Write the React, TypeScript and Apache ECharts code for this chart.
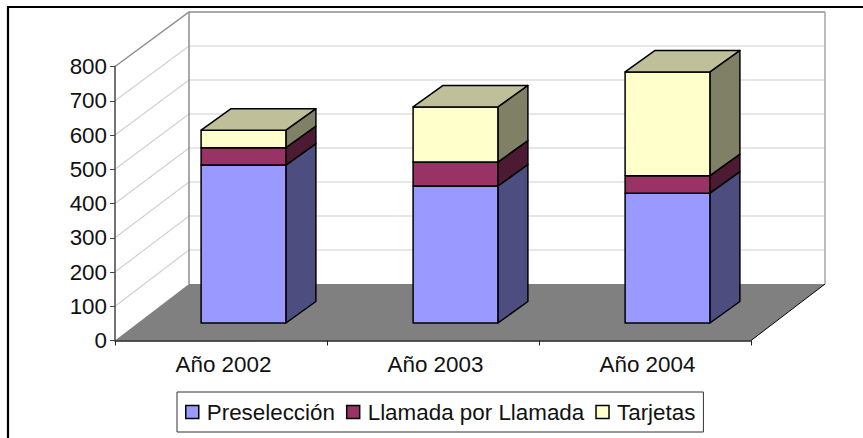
import React, { useEffect, useRef } from "react";
import * as echarts from "echarts";

const categories = ["Año 2002", "Año 2003", "Año 2004"];
const preseleccion = [461, 400, 379];
const llamada = [51, 70, 51];
const tarjetas = [51, 161, 303];
const yTicks = [0, 100, 200, 300, 400, 500, 600, 700, 800];

const FONT = "'Liberation Sans', Arial, sans-serif";
const FONT_SIZE = 22.4;
const TEXT = "#111111";
const DEPTH_X = 74;
const DEPTH_Y = 56.5;
const BACK_SCALE = 0.9927;
const BAR_OFF_X = 22.5;
const BAR_OFF_Y = 17.5;
const BAR_DX = 30;
const BAR_DY = 21.5;
const BAR_RATIO = 0.4;

const stack = (values: number[], below: number[]) =>
  values.map((v, i) => [i, below[i], below[i] + v]);
const sum = (a: number[], b: number[]) => a.map((v, i) => v + b[i]);
const zero = categories.map(() => 0);

function barRenderer(front: string, side: string, top: string | null) {
  return (_params: any, api: any) => {
    const idx = api.value(0);
    const cx = api.coord([idx, 0])[0] + BAR_OFF_X;
    const w = api.size([1, 0])[0] * BAR_RATIO;
    const y0 = api.coord([idx, api.value(1)])[1] - BAR_OFF_Y;
    const y1 = api.coord([idx, api.value(2)])[1] - BAR_OFF_Y;
    const l = cx - w / 2;
    const r = cx + w / 2;
    const line = { stroke: "#000", lineWidth: 1.5, lineJoin: "round" };
    const children: any[] = [
      {
        type: "polygon",
        shape: { points: [[r, y0], [r + BAR_DX, y0 - BAR_DY], [r + BAR_DX, y1 - BAR_DY], [r, y1]] },
        style: { fill: side, ...line },
      },
      {
        type: "polygon",
        shape: { points: [[l, y0], [r, y0], [r, y1], [l, y1]] },
        style: { fill: front, ...line },
      },
    ];
    if (top) {
      children.push({
        type: "polygon",
        shape: { points: [[l, y1], [r, y1], [r + BAR_DX, y1 - BAR_DY], [l + BAR_DX, y1 - BAR_DY]] },
        style: { fill: top, ...line },
      });
    }
    return { type: "group", children };
  };
}

function wallRenderer(params: any, api: any) {
  const v = api.value(0);
  const cs = params.coordSys;
  const x0 = cs.x;
  const x1 = cs.x + cs.width;
  const base = cs.y + cs.height;
  const y = api.coord([0, v])[1];
  const by = base - DEPTH_Y - (base - y) * BACK_SCALE;
  const bx = x0 + DEPTH_X;
  const rx = x1 + DEPTH_X;
  const children: any[] = [];
  const isTop = v === yTicks[yTicks.length - 1];
  const isBase = v === 0;
  if (!isBase) {
    children.push({
      type: "polyline",
      shape: { points: [[x0, y], [bx, by], [rx, by]] },
      style: { fill: "none", stroke: isTop ? "#8c8c8c" : "#d0d0d0", lineWidth: isTop ? 1.5 : 1.2 },
    });
  }
  if (isTop) {
    const floorY = base - DEPTH_Y;
    children.push({
      type: "polyline",
      shape: { points: [[bx, by], [bx, floorY]] },
      style: { fill: "none", stroke: "#8c8c8c", lineWidth: 1.5 },
    });
    children.push({
      type: "polyline",
      shape: { points: [[rx, by], [rx, floorY]] },
      style: { fill: "none", stroke: "#a6a6a6", lineWidth: 1.5 },
    });
  }
  if (isBase) {
    children.push({
      type: "polygon",
      shape: { points: [[x0, base], [bx, base - DEPTH_Y], [rx, base - DEPTH_Y], [x1, base]] },
      style: { fill: "#808080" },
    });
    children.push({
      type: "polyline",
      shape: { points: [[x1, base], [rx, base - DEPTH_Y]] },
      style: { fill: "none", stroke: "#000", lineWidth: 1 },
    });
  }
  return { type: "group", children };
}

export default function App() {
  const ref = useRef<HTMLDivElement>(null);
  useEffect(() => {
    const chart = echarts.init(ref.current!, undefined, { renderer: "svg" });
    const custom = { type: "custom", silent: true, encode: { x: 0, y: [1, 2] }, z: 3 };
    chart.setOption({
      animation: false,
      backgroundColor: "#ffffff",
      textStyle: { fontFamily: FONT },
      graphic: [
        {
          type: "polyline",
          shape: { points: [[8, 438], [8, 7], [863, 7]] },
          style: { fill: "none", stroke: "#000", lineWidth: 2.2 },
        },
      ],
      grid: { left: 115, top: 66.5, width: 636, height: 274 },
      xAxis: {
        type: "category",
        data: categories,
        z: 5,
        axisLine: { lineStyle: { color: "#222", width: 1.5 } },
        axisTick: { show: true, length: 5, lineStyle: { color: "#222", width: 1 } },
        axisLabel: {
          color: TEXT,
          fontSize: FONT_SIZE,
          fontFamily: FONT,
          margin: 13,
          padding: [0, 0, 0, 5],
        },
        splitLine: { show: false },
      },
      yAxis: {
        type: "value",
        min: 0,
        max: 800,
        interval: 100,
        z: 5,
        axisLine: { show: true, lineStyle: { color: "#444", width: 1.5 } },
        axisTick: { show: true, length: 5, lineStyle: { color: "#444", width: 1 } },
        axisLabel: { color: TEXT, fontSize: FONT_SIZE, fontFamily: FONT, margin: 8 },
        splitLine: { show: false },
      },
      legend: {
        left: 177,
        top: 392,
        orient: "horizontal",
        data: ["Preselección", "Llamada por Llamada", "Tarjetas"],
        icon: "rect",
        itemWidth: 13,
        itemHeight: 13,
        itemGap: 11,
        padding: [9, 8, 9, 8],
        backgroundColor: "#ffffff",
        borderColor: "#333333",
        borderWidth: 1,
        itemStyle: { borderColor: "#000", borderWidth: 1.5 },
        textStyle: { color: TEXT, fontSize: FONT_SIZE, fontFamily: FONT, padding: [0, 0, 0, 3] },
      },
      series: [
        {
          type: "custom",
          silent: true,
          z: 1,
          encode: { y: 0 },
          data: yTicks.map((v) => [v]),
          renderItem: wallRenderer,
        },
        {
          ...custom,
          name: "Preselección",
          itemStyle: { color: "#9999FF" },
          data: stack(preseleccion, zero),
          renderItem: barRenderer("#9999FF", "#4D4D80", null),
        },
        {
          ...custom,
          name: "Llamada por Llamada",
          itemStyle: { color: "#993366" },
          data: stack(llamada, preseleccion),
          renderItem: barRenderer("#993366", "#4D1A33", null),
        },
        {
          ...custom,
          name: "Tarjetas",
          itemStyle: { color: "#FFFFCC" },
          data: stack(tarjetas, sum(preseleccion, llamada)),
          renderItem: barRenderer("#FFFFCC", "#808066", "#BFBF99"),
        },
      ],
    });
    return () => chart.dispose();
  }, []);
  return (
    <div
      ref={ref}
      style={{ position: "absolute", left: 0, top: 0, width: 863, height: 438 }}
    />
  );
}
